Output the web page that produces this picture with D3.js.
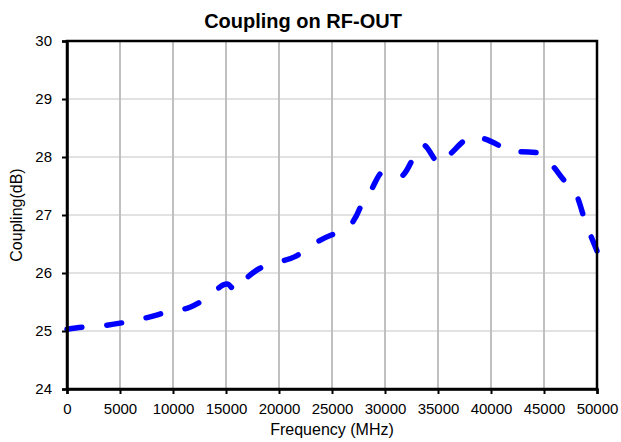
<!DOCTYPE html>
<html>
<head>
<meta charset="utf-8">
<script src="https://cdn.jsdelivr.net/npm/d3@7"></script>
<style>
  body { margin: 0; background: #fff; }
  text { font-family: Arial, "Liberation Sans", sans-serif; fill: #000; }
</style>
</head>
<body>
<div id="chart"></div>
<script>
// measured coupling on RF-OUT
const freqMHz = [0, 1700, 3770, 5750, 7740, 9530, 11600, 13200, 15100, 15940, 16300,
    17900, 19600, 21600, 23100, 25000, 25940, 26500, 27640, 27920, 28580, 29800,
    30470, 31400, 32640, 33020, 33580, 34720, 35000, 35850, 37450, 38020, 39060,
    41040, 41980, 42550, 44620, 45850, 47260, 47740, 48210, 48870, 49530, 50000];
const couplingDb = [25.03, 25.07, 25.10, 25.16, 25.24, 25.33, 25.41, 25.57, 25.81, 25.69, 25.78,
    26.05, 26.17, 26.29, 26.48, 26.66, 26.71, 26.78, 27.12, 27.26, 27.40, 27.74,
    27.71, 27.66, 27.98, 28.14, 28.21, 27.95, 27.88, 28.00, 28.28, 28.36, 28.33,
    28.17, 28.07, 28.09, 28.07, 27.84, 27.53, 27.47, 27.28, 26.90, 26.59, 26.38];
const xTicks = d3.range(0, 50001, 5000);
const yTicks = [24, 25, 26, 27, 28, 29, 30];

const data = freqMHz.map((f, i) => ({ f, v: couplingDb[i] }));

const W = 621, H = 442;
const margin = { top: 41, right: 24, bottom: 53, left: 67 };
const width = W - margin.left - margin.right;
const height = H - margin.top - margin.bottom;

const svg = d3.select("#chart").append("svg")
    .attr("width", W)
    .attr("height", H);

const g = svg.append("g")
    .attr("transform", `translate(${margin.left},${margin.top})`);

const x = d3.scaleLinear().domain([0, 50000]).range([0, width]);
const y = d3.scaleLinear().domain([24, 30]).range([height, 0]);

// gridlines
g.append("g").selectAll("line")
    .data(yTicks.slice(1, -1))
    .join("line")
    .attr("x1", 0).attr("x2", width)
    .attr("y1", d => y(d)).attr("y2", d => y(d))
    .attr("stroke", "#d9d9d9")
    .attr("stroke-width", 1.5);

g.append("g").selectAll("line")
    .data(xTicks.slice(1, -1))
    .join("line")
    .attr("x1", d => x(d)).attr("x2", d => x(d))
    .attr("y1", 0).attr("y2", height)
    .attr("stroke", "#c0c0c0")
    .attr("stroke-width", 2);

// the curve
const line = d3.line()
    .x(d => x(d.f))
    .y(d => y(d.v))
    .curve(d3.curveMonotoneX);

g.append("path")
    .datum(data)
    .attr("fill", "none")
    .attr("stroke", "#0000ff")
    .attr("stroke-width", 5.5)
    .attr("stroke-linecap", "round")
    .attr("stroke-linejoin", "round")
    .attr("stroke-dasharray", "15,25")
    .attr("d", line);

// frame
g.append("rect")
    .attr("width", width)
    .attr("height", height)
    .attr("fill", "none")
    .attr("stroke", "#000")
    .attr("stroke-width", 2.5);

// axes
const xAxis = g.append("g")
    .attr("transform", `translate(0,${height})`)
    .call(d3.axisBottom(x).tickValues(xTicks).tickFormat(d3.format("d")).tickSize(5).tickPadding(9));

const yAxis = g.append("g")
    .call(d3.axisLeft(y).tickValues(yTicks).tickFormat(d3.format("d")).tickSize(5).tickPadding(10));

[xAxis, yAxis].forEach(a => {
    a.select(".domain").attr("stroke", "#000").attr("stroke-width", 2.5);
    a.selectAll(".tick line").attr("stroke", "#000").attr("stroke-width", 2);
    a.selectAll(".tick text")
        .style("font-family", "Arial, 'Liberation Sans', sans-serif")
        .style("font-size", "15px")
        .attr("fill", "#000");
});

// titles
svg.append("text")
    .attr("x", 303)
    .attr("y", 28)
    .attr("text-anchor", "middle")
    .style("font-size", "20px")
    .style("font-weight", "bold")
    .text("Coupling on RF-OUT");

svg.append("text")
    .attr("x", margin.left + width / 2)
    .attr("y", 435)
    .attr("text-anchor", "middle")
    .style("font-size", "16px")
    .text("Frequency (MHz)");

svg.append("text")
    .attr("transform", `translate(21.5,${margin.top + height / 2}) rotate(-90)`)
    .attr("text-anchor", "middle")
    .style("font-size", "16px")
    .text("Coupling(dB)");
</script>
</body>
</html>
